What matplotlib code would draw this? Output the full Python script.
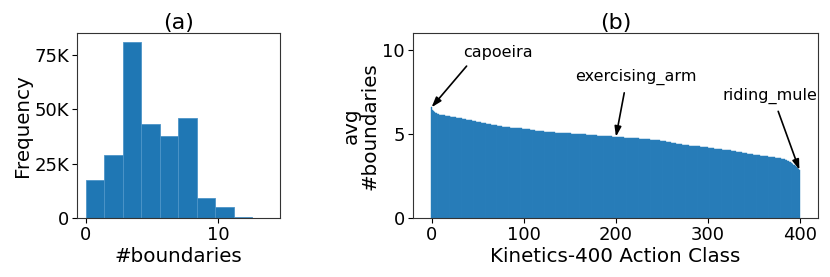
import numpy as np
import matplotlib
matplotlib.use('Agg')
import matplotlib.pyplot as plt
from matplotlib.ticker import FuncFormatter

# (a) histogram of #boundaries per video
bin_edges = [0.0, 1.4, 2.8, 4.2, 5.6, 7.0, 8.4, 9.8, 11.2, 12.6, 14.0]
bin_counts = [17700, 28900, 80900, 43400, 37600, 45900, 9200, 5100, 600, 100]

# (b) average #boundaries per Kinetics-400 class, sorted descending
avg_boundaries = [
    6.60, 6.45, 6.38, 6.33, 6.29, 6.26, 6.23, 6.21, 6.19, 6.17,
    6.15, 6.14, 6.13, 6.12, 6.12, 6.11, 6.10, 6.09, 6.08, 6.07,
    6.06, 6.05, 6.04, 6.03, 6.02, 6.01, 6.00, 5.99, 5.98, 5.97,
    5.96, 5.95, 5.94, 5.93, 5.92, 5.90, 5.89, 5.88, 5.87, 5.86,
    5.85, 5.84, 5.83, 5.82, 5.81, 5.80, 5.78, 5.77, 5.76, 5.75,
    5.74, 5.73, 5.72, 5.70, 5.69, 5.68, 5.67, 5.66, 5.65, 5.63,
    5.62, 5.61, 5.60, 5.59, 5.58, 5.57, 5.56, 5.55, 5.54, 5.53,
    5.52, 5.51, 5.50, 5.49, 5.48, 5.47, 5.46, 5.45, 5.44, 5.43,
    5.42, 5.42, 5.41, 5.41, 5.40, 5.40, 5.39, 5.39, 5.38, 5.38,
    5.37, 5.37, 5.36, 5.36, 5.35, 5.35, 5.35, 5.34, 5.34, 5.33,
    5.32, 5.32, 5.31, 5.30, 5.29, 5.29, 5.28, 5.27, 5.26, 5.26,
    5.25, 5.24, 5.23, 5.22, 5.21, 5.20, 5.19, 5.19, 5.18, 5.18,
    5.17, 5.17, 5.16, 5.16, 5.15, 5.15, 5.14, 5.14, 5.13, 5.13,
    5.12, 5.12, 5.11, 5.11, 5.10, 5.10, 5.09, 5.09, 5.09, 5.08,
    5.08, 5.08, 5.07, 5.07, 5.07, 5.07, 5.06, 5.06, 5.06, 5.05,
    5.05, 5.05, 5.04, 5.04, 5.04, 5.03, 5.03, 5.03, 5.02, 5.02,
    5.02, 5.01, 5.01, 5.01, 5.00, 5.00, 4.99, 4.99, 4.98, 4.98,
    4.97, 4.97, 4.96, 4.96, 4.95, 4.95, 4.94, 4.94, 4.93, 4.93,
    4.92, 4.91, 4.91, 4.90, 4.90, 4.90, 4.89, 4.89, 4.89, 4.88,
    4.88, 4.88, 4.87, 4.87, 4.87, 4.87, 4.86, 4.86, 4.86, 4.85,
    4.85, 4.84, 4.84, 4.83, 4.83, 4.82, 4.82, 4.81, 4.81, 4.80,
    4.80, 4.79, 4.79, 4.78, 4.78, 4.77, 4.77, 4.77, 4.76, 4.76,
    4.76, 4.75, 4.75, 4.75, 4.75, 4.74, 4.74, 4.73, 4.73, 4.72,
    4.72, 4.71, 4.71, 4.70, 4.70, 4.69, 4.69, 4.68, 4.68, 4.67,
    4.67, 4.66, 4.66, 4.65, 4.65, 4.64, 4.63, 4.63, 4.62, 4.61,
    4.61, 4.60, 4.59, 4.58, 4.57, 4.56, 4.55, 4.54, 4.53, 4.52,
    4.50, 4.49, 4.48, 4.47, 4.46, 4.45, 4.44, 4.43, 4.42, 4.41,
    4.40, 4.39, 4.38, 4.37, 4.37, 4.36, 4.35, 4.34, 4.34, 4.33,
    4.32, 4.32, 4.31, 4.31, 4.30, 4.30, 4.29, 4.29, 4.28, 4.28,
    4.27, 4.27, 4.26, 4.25, 4.25, 4.24, 4.23, 4.23, 4.22, 4.21,
    4.20, 4.20, 4.19, 4.18, 4.17, 4.17, 4.16, 4.15, 4.14, 4.14,
    4.13, 4.12, 4.11, 4.11, 4.10, 4.09, 4.09, 4.08, 4.08, 4.07,
    4.07, 4.07, 4.06, 4.05, 4.04, 4.03, 4.02, 4.01, 4.00, 3.99,
    3.98, 3.97, 3.96, 3.95, 3.94, 3.93, 3.92, 3.91, 3.90, 3.89,
    3.88, 3.87, 3.86, 3.85, 3.84, 3.83, 3.82, 3.81, 3.80, 3.79,
    3.78, 3.78, 3.77, 3.76, 3.75, 3.75, 3.74, 3.73, 3.72, 3.72,
    3.71, 3.70, 3.69, 3.69, 3.68, 3.67, 3.66, 3.66, 3.65, 3.64,
    3.63, 3.63, 3.62, 3.61, 3.60, 3.59, 3.58, 3.57, 3.56, 3.55,
    3.54, 3.53, 3.51, 3.50, 3.48, 3.46, 3.43, 3.40, 3.37, 3.34,
    3.30, 3.27, 3.23, 3.19, 3.15, 3.10, 3.05, 3.00, 2.94, 2.88,
]

# highlighted classes: (name, class index, label anchor x, label anchor y, arrow tail x, arrow tail y)
highlights = [
    ('capoeira', 0, 34, 9.4, 38, 9.05),
    ('exercising_arm', 200, 156, 7.95, 209, 7.46),
    ('riding_mule', 399, 316, 6.82, 376, 6.36),
]

BLUE = '#1f77b4'
LABEL_SIZE = 14.3
TICK_SIZE = 13

fig = plt.figure(figsize=(8.3, 2.77), dpi=100)
ax_a = fig.add_axes([0.0924, 0.2119, 0.2449, 0.6679])
ax_b = fig.add_axes([0.4972, 0.2119, 0.4887, 0.6679])

# --- (a) histogram ---
edges = np.array(bin_edges)
ax_a.bar(edges[:-1], bin_counts, width=np.diff(edges), align='edge',
         color=BLUE, edgecolor='#4d94c8', linewidth=0.6)
ax_a.set_yticks([0, 25000, 50000, 75000])
ax_a.yaxis.set_major_formatter(FuncFormatter(lambda v, p: '0' if v == 0 else f'{int(v/1000)}K'))
ax_a.set_xticks([0, 10])
ax_a.set_xlabel('#boundaries', fontsize=LABEL_SIZE, labelpad=2)
ax_a.set_ylabel('Frequency', fontsize=LABEL_SIZE, labelpad=2)
ax_a.set_title('(a)', fontsize=16, pad=3)
ax_a.tick_params(labelsize=TICK_SIZE, pad=2)

# --- (b) sorted per-class averages ---
classes = np.arange(len(avg_boundaries))
ax_b.bar(classes, avg_boundaries, color=BLUE, width=1.0,
         edgecolor='#2f82bd', linewidth=0.3)
ax_b.set_ylim(0, 11)
ax_b.set_yticks([0, 5, 10])
ax_b.set_xticks([0, 100, 200, 300, 400])
ax_b.set_xlabel('Kinetics-400 Action Class', fontsize=LABEL_SIZE, labelpad=2)
ax_b.set_ylabel('avg\n#boundaries', fontsize=LABEL_SIZE, labelpad=2, linespacing=1.0)
ax_b.set_title('(b)', fontsize=16, pad=3)
ax_b.tick_params(labelsize=TICK_SIZE, pad=2)

for name, idx, tx, ty, ax0, ay0 in highlights:
    ax_b.text(tx, ty, name, fontsize=11.5, ha='left', va='bottom')
    ax_b.annotate('', xy=(idx, avg_boundaries[idx]), xytext=(ax0, ay0),
                  arrowprops=dict(arrowstyle='-|>,head_width=0.2,head_length=0.6',
                                  color='black', lw=1.2, shrinkA=0, shrinkB=0))

for ax in (ax_a, ax_b):
    for s in ax.spines.values():
        s.set_color('#333333')

fig.savefig('out.png', dpi=100)
